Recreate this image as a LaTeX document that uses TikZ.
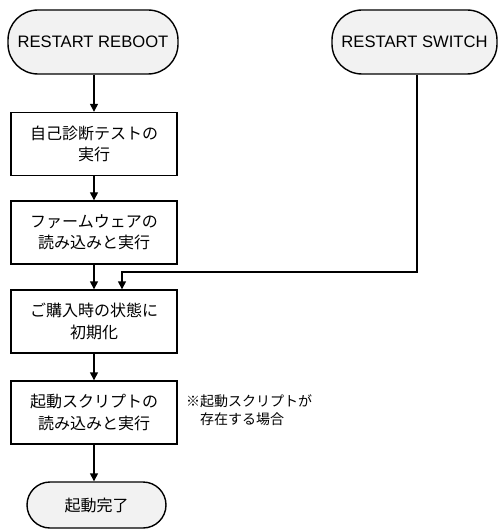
\documentclass[tikz,border=0pt]{standalone}
\usepackage{fontspec}
\setmainfont{Liberation Sans}
\newfontfamily\jp{Noto Sans CJK JP}
\usetikzlibrary{arrows.meta}
\definecolor{termfill}{HTML}{F2F2F2}
\begin{document}
\begin{tikzpicture}[x=1pt,y=-1pt,
  base/.style={draw=black, line width=1.4pt, align=center, inner sep=0pt},
  term/.style={base, fill=termfill, rounded corners=30pt, minimum height=64pt, font=\fontsize{16.6}{20}\selectfont},
  proc/.style={base, fill=white, minimum width=166pt, minimum height=63pt, font=\jp\fontsize{16}{21.5}\selectfont},
  conn/.style={line width=1.4pt, -{Triangle[width=8pt,length=8pt]}},
  note/.style={inner sep=0pt, align=left, font=\jp\fontsize{14}{18.5}\selectfont}]
\useasboundingbox (0,0) rectangle (499,529);
\node[term, minimum width=170pt] (reboot) at (93,42) {RESTART REBOOT};
\node[term, minimum width=165pt] (switch) at (414.5,42) {RESTART SWITCH};
\node[proc] (p1) at (94,144) {自己診断テストの\\実行};
\node[proc] (p2) at (94,232.5) {ファームウェアの\\読み込みと実行};
\node[proc] (p3) at (94,321.5) {ご購入時の状態に\\初期化};
\node[proc] (p4) at (94,412.5) {起動スクリプトの\\読み込みと実行};
\node[term, minimum width=139pt, minimum height=46pt, rounded corners=23pt, font=\jp\fontsize{16}{20}\selectfont] (done) at (96.5,505) {起動完了};
\node[note, anchor=north west] (n) at (186,394) {※起動スクリプトが\\　存在する場合};
\coordinate (sw) at (417,272);
\coordinate (swin) at (122,272);
\draw[conn] (reboot.south -| 94,0) -- (p1.north);
\draw[conn] (p1) -- (p2);
\draw[conn] (p2) -- (p3);
\draw[conn] (p3) -- (p4);
\draw[conn] (p4.south) -- (p4.south |- done.north);
\draw[conn] (switch.south -| sw) -- (sw) -- (swin) -- (swin |- p3.north);
\end{tikzpicture}
\end{document}
